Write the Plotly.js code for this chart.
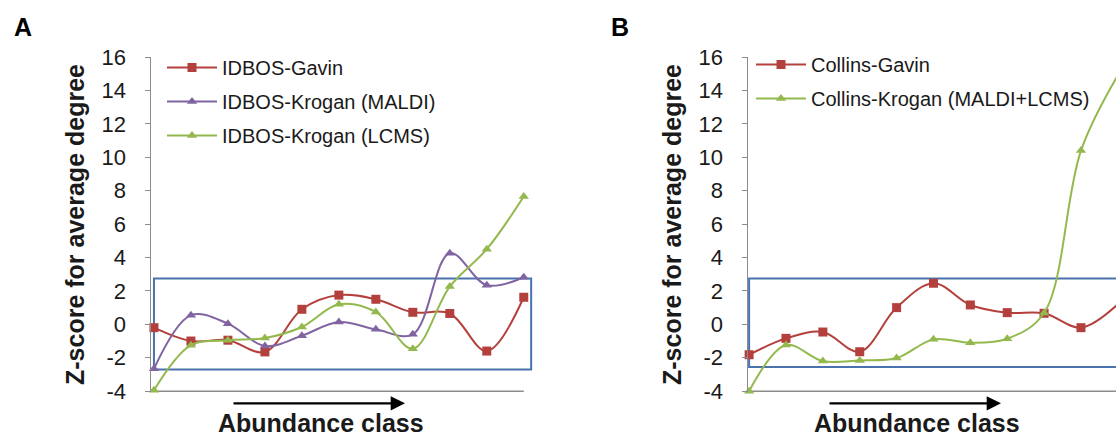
<!DOCTYPE html>
<html>
<head>
<meta charset="utf-8">
<script src="https://cdn.plot.ly/plotly-3.0.1.min.js"></script>
<style>html,body{margin:0;padding:0;background:#fff;}#chart{width:1116px;height:437px;}</style>
</head>
<body>
<div id="chart"></div>
<script>
// ---- data ----
const abundanceClass = [0, 1, 2, 3, 4, 5, 6, 7, 8, 9, 10];
const idbosGavin = [-0.2, -1.0, -0.95, -1.65, 0.9, 1.75, 1.5, 0.72, 0.65, -1.6, 1.62];
const idbosKroganMaldi = [-2.66, 0.55, 0.04, -1.3, -0.68, 0.14, -0.3, -0.6, 4.26, 2.34, 2.82];
const idbosKroganLcms = [-3.95, -1.25, -0.95, -0.82, -0.16, 1.2, 0.74, -1.46, 2.26, 4.5, 7.65];
const collinsGavin = [-1.82, -0.84, -0.46, -1.64, 1.0, 2.46, 1.16, 0.7, 0.66, -0.2, 1.2];
const collinsKrogan = [-4.0, -1.24, -2.2, -2.16, -2.02, -0.9, -1.1, -0.86, 0.68, 10.4, 14.9];
const yTicks = [-4, -2, 0, 2, 4, 6, 8, 10, 12, 14, 16];
const bandA = [-2.7, 2.75];
const bandB = [-2.55, 2.75];

// ---- style ----
const RED = '#B3403C', PURPLE = '#8064A2', GREEN = '#93B94E', BLUE = '#4A72AE', AXIS = '#8C8C8C';
const W = 1116, H = 437, MT = 57, MB = 45;
const PH = H - MT - MB;
const px = v => v / W;
const py = v => (H - MB - v) / PH;
const FONT = 'Liberation Sans, Arial, sans-serif';

function series(y, name, color, symbol, xa, ya, leg, size) {
  return {
    x: abundanceClass, y: y, name: name, type: 'scatter', mode: 'lines+markers',
    xaxis: xa, yaxis: ya, legend: leg, legendgroup: name, cliponaxis: false,
    line: {color: color, width: 2, shape: 'spline', smoothing: 1},
    marker: {symbol: symbol, size: size, color: color}
  };
}

const data = [
  series(idbosGavin, 'IDBOS-Gavin', RED, 'square', 'x', 'y', 'legend', 9),
  series(idbosKroganMaldi, 'IDBOS-Krogan (MALDI)', PURPLE, 'triangle-up', 'x', 'y', 'legend', 9),
  series(idbosKroganLcms, 'IDBOS-Krogan (LCMS)', GREEN, 'triangle-up', 'x', 'y', 'legend', 9),
  series(collinsGavin, 'Collins-Gavin', RED, 'square', 'x2', 'y2', 'legend2', 9),
  series(collinsKrogan, 'Collins-Krogan (MALDI+LCMS)', GREEN, 'triangle-up', 'x2', 'y2', 'legend2', 9)
];

const yax = (anchor) => ({
  anchor: anchor, range: [-4.05, 16], tickvals: yTicks, ticktext: yTicks.map(String),
  showgrid: false, zeroline: false, showline: true, linecolor: AXIS, linewidth: 1.5,
  ticks: 'outside', ticklen: 5, tickcolor: AXIS, tickwidth: 1, ticklabelstandoff: 14,
  tickfont: {family: FONT, size: 22, color: '#1a1a1a'}, fixedrange: true
});
const xax = (anchor, dom, rng) => ({
  anchor: anchor, domain: dom, range: rng, showgrid: false, zeroline: false,
  showline: false, showticklabels: false, ticks: '', fixedrange: true
});

const legendStyle = (x, y) => ({
  x: x, y: y, xanchor: 'left', yanchor: 'top', bgcolor: 'rgba(0,0,0,0)',
  font: {family: FONT, size: 20, color: '#1a1a1a'}, itemwidth: 50, tracegroupgap: 5,
  borderwidth: 0, itemclick: false
});

const layout = {
  width: W, height: H, paper_bgcolor: '#fff', plot_bgcolor: '#fff',
  margin: {l: 0, r: 0, t: MT, b: MB, pad: 0},
  font: {family: FONT, color: '#1a1a1a'},
  xaxis: xax('y', [px(151), px(533)], [-0.08, 10.25]),
  yaxis: yax('x'),
  xaxis2: xax('y2', [px(748), 1], [-0.03, 9.95]),
  yaxis2: yax('x2'),
  showlegend: true,
  legend: legendStyle(px(162), py(48)),
  legend2: legendStyle(px(751), py(45)),
  shapes: [
    {type: 'rect', xref: 'x', yref: 'y', x0: 0, x1: 10.2, y0: bandA[0], y1: bandA[1], line: {color: BLUE, width: 2}, layer: 'below'},
    {type: 'rect', xref: 'x2', yref: 'y2', x0: 0, x1: 10.5, y0: bandB[0], y1: bandB[1], line: {color: BLUE, width: 2}, layer: 'below'},
    {type: 'line', xref: 'x', yref: 'y', x0: -0.08, x1: 10, y0: -4, y1: -4, line: {color: AXIS, width: 1.5}, layer: 'below'},
    {type: 'line', xref: 'x2', yref: 'y2', x0: -0.03, x1: 10.5, y0: -4, y1: -4, line: {color: AXIS, width: 1.5}, layer: 'below'}
  ],
  annotations: [
    {text: '<b>A</b>', xref: 'paper', yref: 'paper', x: px(22.5), y: py(27), showarrow: false, xanchor: 'center', yanchor: 'middle', font: {family: FONT, size: 25, color: '#000'}},
    {text: '<b>B</b>', xref: 'paper', yref: 'paper', x: px(619.5), y: py(27), showarrow: false, xanchor: 'center', yanchor: 'middle', font: {family: FONT, size: 25, color: '#000'}},
    {text: '<b>Z-score for average degree</b>', xref: 'paper', yref: 'paper', x: px(75), y: py(225), textangle: -90, showarrow: false, xanchor: 'center', yanchor: 'middle', font: {family: FONT, size: 25, color: '#1a1a1a'}},
    {text: '<b>Z-score for average degree</b>', xref: 'paper', yref: 'paper', x: px(672), y: py(225), textangle: -90, showarrow: false, xanchor: 'center', yanchor: 'middle', font: {family: FONT, size: 25, color: '#1a1a1a'}},
    {text: '<b>Abundance class</b>', xref: 'paper', yref: 'paper', x: px(320.8), y: py(423), showarrow: false, xanchor: 'center', yanchor: 'middle', font: {family: FONT, size: 25, color: '#1a1a1a'}},
    {text: '<b>Abundance class</b>', xref: 'paper', yref: 'paper', x: px(916.8), y: py(423), showarrow: false, xanchor: 'center', yanchor: 'middle', font: {family: FONT, size: 25, color: '#1a1a1a'}},
    {text: '', xref: 'paper', yref: 'paper', x: px(405), y: py(403.3), ax: -173, ay: 0, showarrow: true, arrowhead: 2, arrowsize: 1.3, arrowwidth: 2.2, arrowcolor: '#000'},
    {text: '', xref: 'paper', yref: 'paper', x: px(1001), y: py(403.3), ax: -173, ay: 0, showarrow: true, arrowhead: 2, arrowsize: 1.3, arrowwidth: 2.2, arrowcolor: '#000'}
  ]
};

Plotly.newPlot('chart', data, layout, {staticPlot: true, displayModeBar: false});
</script>
</body>
</html>
